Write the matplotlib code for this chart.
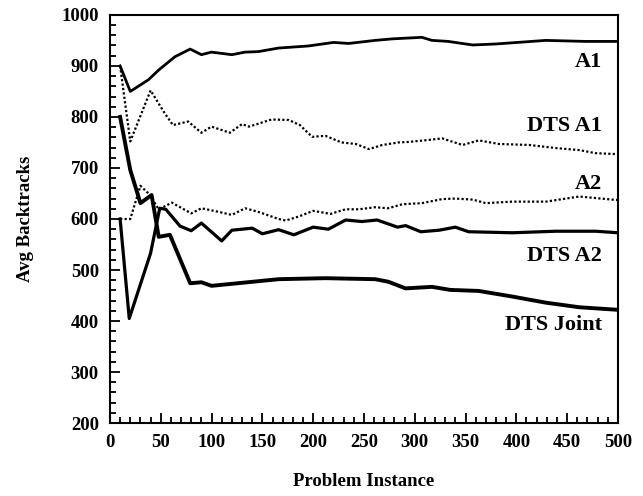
import matplotlib
matplotlib.use("Agg")
import matplotlib.pyplot as plt
from matplotlib.ticker import MultipleLocator

# values
a1_x = [10, 20, 38, 48, 64, 79, 90, 100, 120, 133, 146, 166, 195, 220, 235,
        261, 278, 307, 317, 333, 357, 380, 429, 468, 500]
a1_y = [900, 850, 873, 892, 918, 933, 922, 927, 922, 927, 928, 935, 939, 946, 944,
        950, 953, 956, 950, 948, 941, 943, 950, 948, 948]

dts_a1_x = [10, 20, 40, 53, 62, 77, 90, 100, 118, 130, 137, 159, 176, 187, 199, 212,
            228, 242, 255, 268, 284, 294, 314, 327, 347, 363, 383, 413, 439, 462, 478, 500]
dts_a1_y = [900, 752, 852, 810, 784, 791, 769, 781, 769, 786, 781, 795, 794, 784, 761, 763,
            750, 747, 737, 745, 750, 751, 755, 758, 745, 754, 747, 745, 739, 735, 729, 727]

a2_x = [10, 20, 30, 38, 48, 61, 80, 90, 107, 120, 133, 146, 166, 173, 186, 200,
        217, 232, 245, 261, 274, 288, 307, 327, 340, 357, 370, 396, 429, 462, 478, 500]
a2_y = [600, 600, 665, 650, 619, 632, 611, 621, 614, 608, 621, 614, 600, 597, 605, 616,
        610, 619, 619, 623, 621, 629, 631, 639, 640, 638, 631, 634, 634, 644, 641, 637]

dts_a2_x = [10, 19, 40, 49, 55, 69, 80, 90, 110, 120, 140, 150, 166, 181, 200, 215,
            232, 248, 263, 283, 291, 306, 324, 340, 353, 396, 439, 478, 500]
dts_a2_y = [600, 405, 533, 621, 619, 586, 577, 592, 557, 578, 582, 571, 579, 569, 584, 580,
            598, 595, 598, 584, 587, 575, 578, 584, 575, 573, 576, 576, 573]

joint_x = [10, 20, 30, 41, 48, 59, 79, 90, 100, 166, 212, 261, 274, 291, 317, 335,
           363, 396, 429, 462, 500]
joint_y = [800, 696, 631, 647, 565, 569, 474, 476, 469, 482, 484, 482, 477, 464, 467, 461,
           459, 448, 436, 427, 422]

labels = ["A1", "DTS A1", "A2", "DTS A2", "DTS Joint"]
label_y = [907, 783, 668, 528, 392]

plt.rcParams['font.family'] = ['Liberation Serif', 'DejaVu Serif']
plt.rcParams['font.weight'] = 'bold'

fig = plt.figure(figsize=(6.43, 4.96), dpi=100)
ax = fig.add_axes([0.171, 0.147, 0.79, 0.823])

ax.plot(a1_x, a1_y, color='black', lw=2.0)
ax.plot(dts_a1_x, dts_a1_y, color='black', lw=1.6, ls=(0, (1, 1)))
ax.plot(a2_x, a2_y, color='black', lw=1.6, ls=(0, (1, 1)))
ax.plot(dts_a2_x, dts_a2_y, color='black', lw=2.3)
ax.plot(joint_x, joint_y, color='black', lw=2.8)

for lab, ly in zip(labels, label_y):
    ax.text(484, ly, lab, ha='right', va='center', fontsize=16, fontweight='bold')

ax.set_xlim(0, 500)
ax.set_ylim(200, 1000)
ax.xaxis.set_major_locator(MultipleLocator(50))
ax.xaxis.set_minor_locator(MultipleLocator(10))
ax.yaxis.set_major_locator(MultipleLocator(100))
ax.yaxis.set_minor_locator(MultipleLocator(20))
ax.tick_params(which='both', direction='in', top=False, right=False, width=1.3)
ax.tick_params(which='major', length=7, labelsize=13.5, pad=8)
ax.tick_params(which='minor', length=4)
for s in ax.spines.values():
    s.set_linewidth(1.5)

ax.set_xlabel("Problem Instance", fontsize=13.5, fontweight='bold', labelpad=16)
ax.set_ylabel("Avg Backtracks", fontsize=13.5, fontweight='bold', labelpad=20)

fig.savefig("out.png", dpi=100)
